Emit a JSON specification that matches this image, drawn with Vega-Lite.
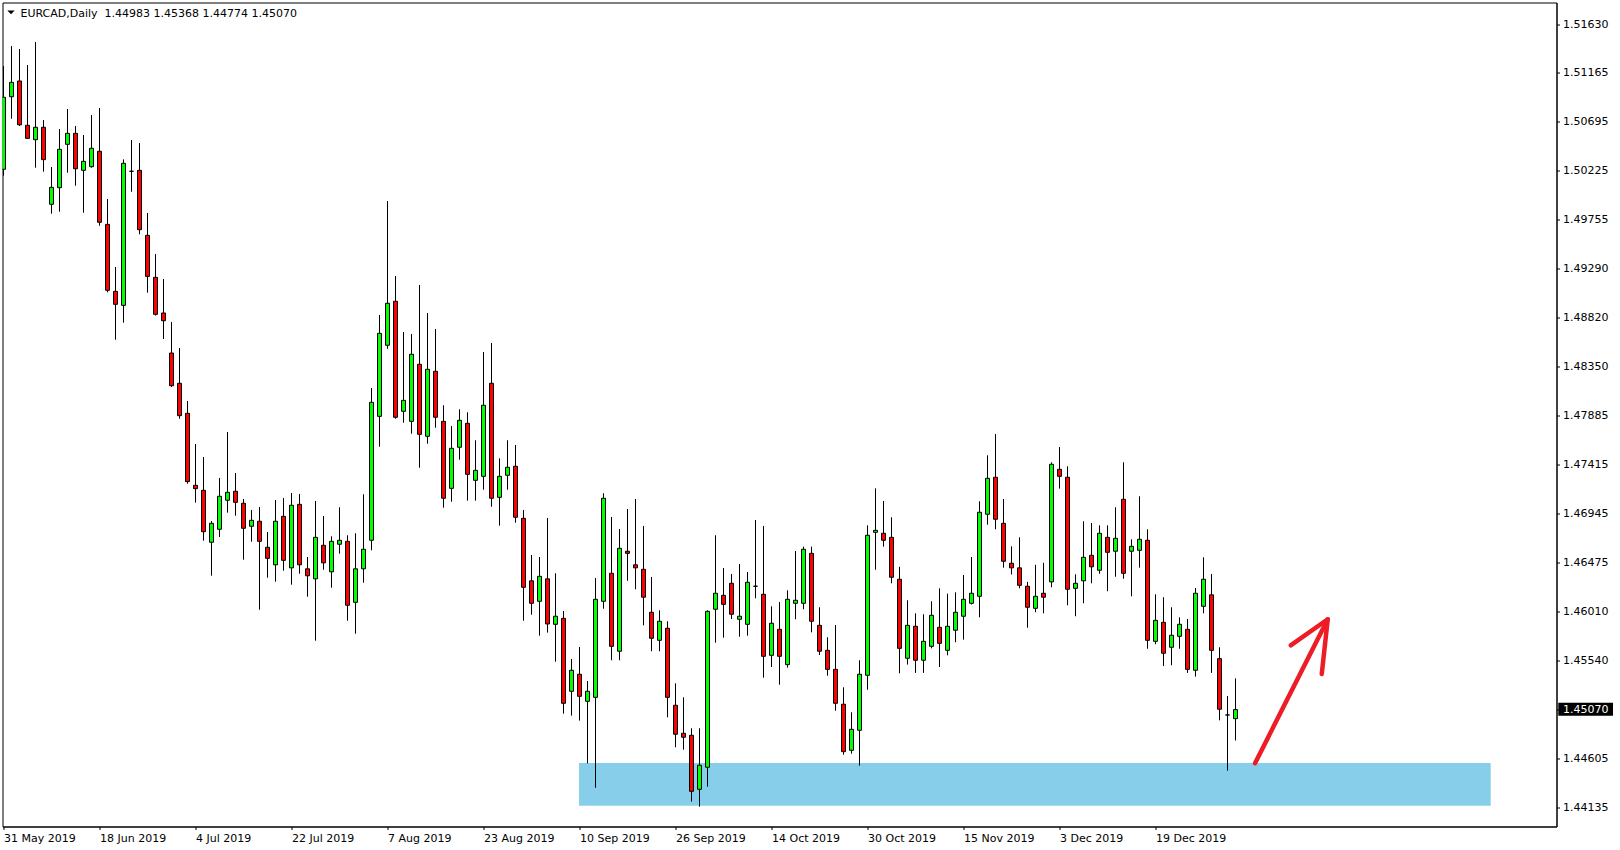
{
"$schema": "https://vega.github.io/schema/vega-lite/v6.json",
"width": 1554, "height": 824,
"autosize": {"type": "none"},
"padding": {"left": 2.5, "top": 2.5, "right": 63.5, "bottom": 23.5},
"background": "white",
"title": {"text": "EURCAD,Daily\u00a0 1.44983 1.45368 1.44774 1.45070", "anchor": "start", "frame": "group", "orient": "top", "offset": -16, "dx": 18, "font": "DejaVu Sans", "fontSize": 11, "fontWeight": "normal", "color": "black"},
"datasets": {
"candles": [
{"date":"2019-05-31","i":0,"open":1.50240,"high":1.51228,"low":1.50179,"close":1.50929},
{"date":"2019-06-03","i":1,"open":1.50934,"high":1.51419,"low":1.50724,"close":1.51072},
{"date":"2019-06-04","i":2,"open":1.51085,"high":1.51391,"low":1.50654,"close":1.50666},
{"date":"2019-06-05","i":3,"open":1.50661,"high":1.51238,"low":1.50530,"close":1.50536},
{"date":"2019-06-06","i":4,"open":1.50523,"high":1.51458,"low":1.50255,"close":1.50642},
{"date":"2019-06-07","i":5,"open":1.50642,"high":1.50711,"low":1.50217,"close":1.50332},
{"date":"2019-06-10","i":6,"open":1.49905,"high":1.50262,"low":1.49815,"close":1.50067},
{"date":"2019-06-11","i":7,"open":1.50064,"high":1.50625,"low":1.49834,"close":1.50431},
{"date":"2019-06-12","i":8,"open":1.50479,"high":1.50817,"low":1.50207,"close":1.50584},
{"date":"2019-06-13","i":9,"open":1.50584,"high":1.50654,"low":1.50083,"close":1.50245},
{"date":"2019-06-14","i":10,"open":1.50230,"high":1.50568,"low":1.49824,"close":1.50316},
{"date":"2019-06-17","i":11,"open":1.50265,"high":1.50759,"low":1.50255,"close":1.50441},
{"date":"2019-06-18","i":12,"open":1.50412,"high":1.50826,"low":1.49700,"close":1.49733},
{"date":"2019-06-19","i":13,"open":1.49713,"high":1.49956,"low":1.49063,"close":1.49082},
{"date":"2019-06-20","i":14,"open":1.49072,"high":1.49305,"low":1.48609,"close":1.48948},
{"date":"2019-06-21","i":15,"open":1.48938,"high":1.50335,"low":1.48772,"close":1.50297},
{"date":"2019-06-24","i":16,"open":1.50221,"high":1.50520,"low":1.50025,"close":1.50221},
{"date":"2019-06-25","i":17,"open":1.50230,"high":1.50491,"low":1.49618,"close":1.49662},
{"date":"2019-06-26","i":18,"open":1.49608,"high":1.49822,"low":1.49059,"close":1.49215},
{"date":"2019-06-27","i":19,"open":1.49206,"high":1.49429,"low":1.48841,"close":1.48852},
{"date":"2019-06-28","i":20,"open":1.48865,"high":1.49190,"low":1.48616,"close":1.48791},
{"date":"2019-07-01","i":21,"open":1.48482,"high":1.48779,"low":1.48157,"close":1.48169},
{"date":"2019-07-02","i":22,"open":1.48192,"high":1.48530,"low":1.47853,"close":1.47882},
{"date":"2019-07-03","i":23,"open":1.47905,"high":1.48023,"low":1.47231,"close":1.47251},
{"date":"2019-07-04","i":24,"open":1.47216,"high":1.47611,"low":1.47050,"close":1.47184},
{"date":"2019-07-05","i":25,"open":1.47168,"high":1.47487,"low":1.46686,"close":1.46772},
{"date":"2019-07-08","i":26,"open":1.46671,"high":1.46874,"low":1.46351,"close":1.46852},
{"date":"2019-07-09","i":27,"open":1.46795,"high":1.47286,"low":1.46721,"close":1.47111},
{"date":"2019-07-10","i":28,"open":1.47073,"high":1.47726,"low":1.46954,"close":1.47149},
{"date":"2019-07-11","i":29,"open":1.47159,"high":1.47334,"low":1.46925,"close":1.47053},
{"date":"2019-07-12","i":30,"open":1.47044,"high":1.47085,"low":1.46504,"close":1.46805},
{"date":"2019-07-15","i":31,"open":1.46824,"high":1.46980,"low":1.46676,"close":1.46881},
{"date":"2019-07-16","i":32,"open":1.46872,"high":1.47008,"low":1.46026,"close":1.46680},
{"date":"2019-07-17","i":33,"open":1.46623,"high":1.46769,"low":1.46332,"close":1.46517},
{"date":"2019-07-18","i":34,"open":1.46455,"high":1.47075,"low":1.46294,"close":1.46872},
{"date":"2019-07-19","i":35,"open":1.46919,"high":1.47095,"low":1.46399,"close":1.46498},
{"date":"2019-07-22","i":36,"open":1.46426,"high":1.47142,"low":1.46265,"close":1.47025},
{"date":"2019-07-23","i":37,"open":1.47034,"high":1.47133,"low":1.46370,"close":1.46455},
{"date":"2019-07-24","i":38,"open":1.46417,"high":1.46530,"low":1.46150,"close":1.46350},
{"date":"2019-07-25","i":39,"open":1.46321,"high":1.47066,"low":1.45729,"close":1.46718},
{"date":"2019-07-26","i":40,"open":1.46642,"high":1.46922,"low":1.46408,"close":1.46474},
{"date":"2019-07-29","i":41,"open":1.46388,"high":1.46728,"low":1.46236,"close":1.46680},
{"date":"2019-07-30","i":42,"open":1.46652,"high":1.47006,"low":1.46562,"close":1.46690},
{"date":"2019-07-31","i":43,"open":1.46680,"high":1.46738,"low":1.45920,"close":1.46068},
{"date":"2019-08-01","i":44,"open":1.46096,"high":1.46757,"low":1.45796,"close":1.46417},
{"date":"2019-08-02","i":45,"open":1.46417,"high":1.47130,"low":1.46284,"close":1.46604},
{"date":"2019-08-05","i":46,"open":1.46690,"high":1.48147,"low":1.46594,"close":1.48010},
{"date":"2019-08-06","i":47,"open":1.47876,"high":1.48846,"low":1.47585,"close":1.48670},
{"date":"2019-08-07","i":48,"open":1.48556,"high":1.49936,"low":1.48523,"close":1.48958},
{"date":"2019-08-08","i":49,"open":1.48977,"high":1.49219,"low":1.47853,"close":1.47867},
{"date":"2019-08-09","i":50,"open":1.47924,"high":1.48683,"low":1.47815,"close":1.48029},
{"date":"2019-08-12","i":51,"open":1.47828,"high":1.48664,"low":1.47710,"close":1.48470},
{"date":"2019-08-13","i":52,"open":1.48374,"high":1.49133,"low":1.47384,"close":1.47704},
{"date":"2019-08-14","i":53,"open":1.47685,"high":1.48865,"low":1.47614,"close":1.48326},
{"date":"2019-08-15","i":54,"open":1.48307,"high":1.48712,"low":1.47767,"close":1.47867},
{"date":"2019-08-16","i":55,"open":1.47828,"high":1.47982,"low":1.47002,"close":1.47092},
{"date":"2019-08-19","i":56,"open":1.47187,"high":1.47783,"low":1.47059,"close":1.47570},
{"date":"2019-08-20","i":57,"open":1.47580,"high":1.47943,"low":1.47461,"close":1.47838},
{"date":"2019-08-21","i":58,"open":1.47809,"high":1.47915,"low":1.47069,"close":1.47321},
{"date":"2019-08-22","i":59,"open":1.47264,"high":1.47647,"low":1.47069,"close":1.47359},
{"date":"2019-08-23","i":60,"open":1.47302,"high":1.48492,"low":1.47174,"close":1.47982},
{"date":"2019-08-26","i":61,"open":1.48192,"high":1.48578,"low":1.47011,"close":1.47092},
{"date":"2019-08-27","i":62,"open":1.47101,"high":1.47474,"low":1.46830,"close":1.47302},
{"date":"2019-08-28","i":63,"open":1.47312,"high":1.47647,"low":1.47174,"close":1.47388},
{"date":"2019-08-29","i":64,"open":1.47398,"high":1.47602,"low":1.46858,"close":1.46910},
{"date":"2019-08-30","i":65,"open":1.46900,"high":1.46980,"low":1.45920,"close":1.46240},
{"date":"2019-09-02","i":66,"open":1.46302,"high":1.46549,"low":1.45978,"close":1.46087},
{"date":"2019-09-03","i":67,"open":1.46106,"high":1.46530,"low":1.45777,"close":1.46345},
{"date":"2019-09-04","i":68,"open":1.46321,"high":1.46903,"low":1.45806,"close":1.45889},
{"date":"2019-09-05","i":69,"open":1.45886,"high":1.46374,"low":1.45528,"close":1.45963},
{"date":"2019-09-06","i":70,"open":1.45943,"high":1.46013,"low":1.45031,"close":1.45130},
{"date":"2019-09-09","i":71,"open":1.45245,"high":1.45554,"low":1.45012,"close":1.45446},
{"date":"2019-09-10","i":72,"open":1.45408,"high":1.45669,"low":1.44964,"close":1.45197},
{"date":"2019-09-11","i":73,"open":1.45149,"high":1.45343,"low":1.44555,"close":1.45245},
{"date":"2019-09-12","i":74,"open":1.45187,"high":1.46329,"low":1.44322,"close":1.46125},
{"date":"2019-09-13","i":75,"open":1.46106,"high":1.47140,"low":1.46035,"close":1.47092},
{"date":"2019-09-16","i":76,"open":1.46374,"high":1.46913,"low":1.45542,"close":1.45675},
{"date":"2019-09-17","i":77,"open":1.45628,"high":1.46798,"low":1.45542,"close":1.46613},
{"date":"2019-09-18","i":78,"open":1.46585,"high":1.46989,"low":1.46302,"close":1.46565},
{"date":"2019-09-19","i":79,"open":1.46455,"high":1.47085,"low":1.46221,"close":1.46426},
{"date":"2019-09-20","i":80,"open":1.46412,"high":1.46827,"low":1.45876,"close":1.46145},
{"date":"2019-09-23","i":81,"open":1.46001,"high":1.46339,"low":1.45628,"close":1.45752},
{"date":"2019-09-24","i":82,"open":1.45733,"high":1.46020,"low":1.45628,"close":1.45915},
{"date":"2019-09-25","i":83,"open":1.45848,"high":1.45915,"low":1.44996,"close":1.45187},
{"date":"2019-09-26","i":84,"open":1.45111,"high":1.45321,"low":1.44709,"close":1.44834},
{"date":"2019-09-27","i":85,"open":1.44843,"high":1.45187,"low":1.44686,"close":1.44805},
{"date":"2019-09-30","i":86,"open":1.44824,"high":1.44891,"low":1.44189,"close":1.44288},
{"date":"2019-10-01","i":87,"open":1.44307,"high":1.44891,"low":1.44141,"close":1.44537},
{"date":"2019-10-02","i":88,"open":1.44518,"high":1.46020,"low":1.44332,"close":1.46010},
{"date":"2019-10-03","i":89,"open":1.46030,"high":1.46738,"low":1.45710,"close":1.46183},
{"date":"2019-10-04","i":90,"open":1.46163,"high":1.46425,"low":1.45758,"close":1.46077},
{"date":"2019-10-07","i":91,"open":1.46278,"high":1.46367,"low":1.45937,"close":1.45982},
{"date":"2019-10-08","i":92,"open":1.45934,"high":1.46463,"low":1.45767,"close":1.45963},
{"date":"2019-10-09","i":93,"open":1.45886,"high":1.46386,"low":1.45777,"close":1.46288},
{"date":"2019-10-10","i":94,"open":1.46250,"high":1.46884,"low":1.46135,"close":1.46250},
{"date":"2019-10-11","i":95,"open":1.46173,"high":1.46827,"low":1.45375,"close":1.45580},
{"date":"2019-10-14","i":96,"open":1.45589,"high":1.46058,"low":1.45477,"close":1.45896},
{"date":"2019-10-15","i":97,"open":1.45838,"high":1.46099,"low":1.45308,"close":1.45580},
{"date":"2019-10-16","i":98,"open":1.45500,"high":1.46211,"low":1.45471,"close":1.46125},
{"date":"2019-10-17","i":99,"open":1.46087,"high":1.46587,"low":1.45934,"close":1.46116},
{"date":"2019-10-18","i":100,"open":1.46087,"high":1.46629,"low":1.46030,"close":1.46604},
{"date":"2019-10-21","i":101,"open":1.46565,"high":1.46629,"low":1.45809,"close":1.45915},
{"date":"2019-10-22","i":102,"open":1.45876,"high":1.46049,"low":1.45592,"close":1.45628},
{"date":"2019-10-23","i":103,"open":1.45637,"high":1.45762,"low":1.45394,"close":1.45455},
{"date":"2019-10-24","i":104,"open":1.45455,"high":1.45879,"low":1.45059,"close":1.45130},
{"date":"2019-10-25","i":105,"open":1.45121,"high":1.45283,"low":1.44638,"close":1.44667},
{"date":"2019-10-28","i":106,"open":1.44680,"high":1.45044,"low":1.44648,"close":1.44881},
{"date":"2019-10-29","i":107,"open":1.44872,"high":1.45542,"low":1.44533,"close":1.45408},
{"date":"2019-10-30","i":108,"open":1.45398,"high":1.46833,"low":1.45260,"close":1.46738},
{"date":"2019-10-31","i":109,"open":1.46766,"high":1.47187,"low":1.46408,"close":1.46785},
{"date":"2019-11-01","i":110,"open":1.46757,"high":1.47066,"low":1.46629,"close":1.46690},
{"date":"2019-11-04","i":111,"open":1.46718,"high":1.46910,"low":1.46278,"close":1.46336},
{"date":"2019-11-05","i":112,"open":1.46317,"high":1.46436,"low":1.45417,"close":1.45656},
{"date":"2019-11-06","i":113,"open":1.45561,"high":1.46116,"low":1.45500,"close":1.45876},
{"date":"2019-11-07","i":114,"open":1.45867,"high":1.45991,"low":1.45421,"close":1.45542},
{"date":"2019-11-08","i":115,"open":1.45542,"high":1.45982,"low":1.45421,"close":1.45723},
{"date":"2019-11-11","i":116,"open":1.45675,"high":1.46106,"low":1.45656,"close":1.45972},
{"date":"2019-11-12","i":117,"open":1.45857,"high":1.46230,"low":1.45477,"close":1.45704},
{"date":"2019-11-13","i":118,"open":1.45637,"high":1.46179,"low":1.45589,"close":1.45867},
{"date":"2019-11-14","i":119,"open":1.45829,"high":1.46192,"low":1.45714,"close":1.46001},
{"date":"2019-11-15","i":120,"open":1.45963,"high":1.46358,"low":1.45739,"close":1.46125},
{"date":"2019-11-18","i":121,"open":1.46087,"high":1.46530,"low":1.46075,"close":1.46183},
{"date":"2019-11-19","i":122,"open":1.46154,"high":1.47063,"low":1.45953,"close":1.46958},
{"date":"2019-11-20","i":123,"open":1.46939,"high":1.47503,"low":1.46839,"close":1.47283},
{"date":"2019-11-21","i":124,"open":1.47293,"high":1.47707,"low":1.46795,"close":1.46891},
{"date":"2019-11-22","i":125,"open":1.46852,"high":1.47085,"low":1.46428,"close":1.46489},
{"date":"2019-11-25","i":126,"open":1.46470,"high":1.46632,"low":1.46363,"close":1.46426},
{"date":"2019-11-26","i":127,"open":1.46426,"high":1.46718,"low":1.46230,"close":1.46259},
{"date":"2019-11-27","i":128,"open":1.46250,"high":1.46292,"low":1.45853,"close":1.46049},
{"date":"2019-11-28","i":129,"open":1.46039,"high":1.46455,"low":1.46001,"close":1.46154},
{"date":"2019-11-29","i":130,"open":1.46183,"high":1.46474,"low":1.45991,"close":1.46145},
{"date":"2019-12-02","i":131,"open":1.46292,"high":1.47436,"low":1.46240,"close":1.47417},
{"date":"2019-12-03","i":132,"open":1.47369,"high":1.47582,"low":1.47184,"close":1.47302},
{"date":"2019-12-04","i":133,"open":1.47293,"high":1.47398,"low":1.46068,"close":1.46221},
{"date":"2019-12-05","i":134,"open":1.46230,"high":1.46364,"low":1.45963,"close":1.46278},
{"date":"2019-12-06","i":135,"open":1.46302,"high":1.46872,"low":1.46087,"close":1.46527},
{"date":"2019-12-09","i":136,"open":1.46546,"high":1.46855,"low":1.46278,"close":1.46436},
{"date":"2019-12-10","i":137,"open":1.46403,"high":1.46833,"low":1.46370,"close":1.46757},
{"date":"2019-12-11","i":138,"open":1.46718,"high":1.46833,"low":1.46202,"close":1.46575},
{"date":"2019-12-12","i":139,"open":1.46585,"high":1.47006,"low":1.46341,"close":1.46709},
{"date":"2019-12-13","i":140,"open":1.47082,"high":1.47436,"low":1.46322,"close":1.46374},
{"date":"2019-12-16","i":141,"open":1.46585,"high":1.46699,"low":1.46154,"close":1.46632},
{"date":"2019-12-17","i":142,"open":1.46594,"high":1.47111,"low":1.46428,"close":1.46699},
{"date":"2019-12-18","i":143,"open":1.46690,"high":1.46795,"low":1.45652,"close":1.45733},
{"date":"2019-12-19","i":144,"open":1.45723,"high":1.46173,"low":1.45695,"close":1.45924},
{"date":"2019-12-20","i":145,"open":1.45905,"high":1.46145,"low":1.45487,"close":1.45609},
{"date":"2019-12-23","i":146,"open":1.45666,"high":1.46049,"low":1.45494,"close":1.45781},
{"date":"2019-12-24","i":147,"open":1.45771,"high":1.45953,"low":1.45652,"close":1.45886},
{"date":"2019-12-26","i":148,"open":1.45838,"high":1.45937,"low":1.45421,"close":1.45455},
{"date":"2019-12-27","i":149,"open":1.45446,"high":1.46233,"low":1.45385,"close":1.46183},
{"date":"2019-12-30","i":150,"open":1.46058,"high":1.46527,"low":1.45991,"close":1.46317},
{"date":"2019-12-31","i":151,"open":1.46168,"high":1.46367,"low":1.45421,"close":1.45637},
{"date":"2020-01-02","i":152,"open":1.45557,"high":1.45666,"low":1.44967,"close":1.45073},
{"date":"2020-01-03","i":153,"open":1.45018,"high":1.45200,"low":1.44485,"close":1.45018},
{"date":"2020-01-06","i":154,"open":1.44983,"high":1.45368,"low":1.44774,"close":1.45070}
],
"zone": [{"i_start": 71.94, "i_end": 185.9, "low": 1.44150, "high": 1.44559}],
"arrow": [
{"part": "shaft", "k": 0, "i": 156.44, "price": 1.44556},
{"part": "shaft", "k": 1, "i": 165.53, "price": 1.45934},
{"part": "head", "k": 0, "i": 160.9, "price": 1.45685},
{"part": "head", "k": 1, "i": 165.53, "price": 1.45934},
{"part": "head", "k": 2, "i": 164.78, "price": 1.45410}
]
},
"layer": [
{"data": {"name": "zone"},
 "mark": {"type": "rect", "color": "#87CEEB"},
 "encoding": {
  "x": {"field": "i_start", "type": "quantitative", "title": null,
        "scale": {"domain": [-0.125, 194.125], "nice": false, "zero": false, "padding": 0},
        "axis": {"values": [0,12,24,36,48,60,72,84,96,108,120,132,144],
                 "labelExpr": "['31 May 2019','18 Jun 2019','4 Jul 2019','22 Jul 2019','7 Aug 2019','23 Aug 2019','10 Sep 2019','26 Sep 2019','14 Oct 2019','30 Oct 2019','15 Nov 2019','3 Dec 2019','19 Dec 2019'][round(datum.value / 12)]",
                 "labelAlign": "left", "labelDx": -1, "labelPadding": 3, "labelFlush": false, "labelOverlap": false,
                 "tickSize": 3, "grid": false, "zindex": 1}},
  "x2": {"field": "i_end"},
  "y": {"field": "low", "type": "quantitative", "title": null,
        "scale": {"domain": [1.43951, 1.51836], "nice": false, "zero": false, "padding": 0},
        "axis": {"orient": "right", "values": [1.44135,1.44605,1.4507,1.4554,1.4601,1.46475,1.46945,1.47415,1.47885,1.4835,1.4882,1.4929,1.49755,1.50225,1.50695,1.51165,1.5163],
                 "format": ".5f", "tickSize": 3, "labelPadding": 3, "grid": false, "zindex": 1,
                 "labelColor": {"condition": {"test": "abs(datum.value - 1.4507) < 0.000001", "value": "white"}, "value": "black"}}},
  "y2": {"field": "high"}
 }},
{"data": {"name": "candles"},
 "mark": {"type": "rule", "color": "black", "strokeWidth": 1, "clip": true},
 "encoding": {
  "x": {"field": "i", "type": "quantitative", "title": null},
  "y": {"field": "low", "type": "quantitative", "title": null},
  "y2": {"field": "high"}
 }},
{"data": {"name": "candles"},
 "mark": {"type": "bar", "size": 4, "stroke": "black", "strokeWidth": 1, "clip": true},
 "encoding": {
  "x": {"field": "i", "type": "quantitative", "title": null},
  "y": {"field": "open", "type": "quantitative", "title": null},
  "y2": {"field": "close"},
  "fill": {"condition": [{"test": "datum.close > datum.open", "value": "#00FF00"}, {"test": "datum.close < datum.open", "value": "#FF0000"}], "value": "#000000"}
 }},
{"data": {"name": "arrow"},
 "mark": {"type": "line", "color": "#EE1C25", "strokeWidth": 4.5, "strokeCap": "round", "strokeJoin": "round"},
 "encoding": {
  "x": {"field": "i", "type": "quantitative", "title": null},
  "y": {"field": "price", "type": "quantitative", "title": null},
  "detail": {"field": "part"},
  "order": {"field": "k"}
 }},
{"data": {"values": [{"last_close": 1.4507}]},
 "mark": {"type": "rect", "color": "black", "clip": false},
 "encoding": {
  "x": {"datum": 194.35, "type": "quantitative"},
  "x2": {"datum": 201.19},
  "y": {"datum": 1.45136, "type": "quantitative"},
  "y2": {"datum": 1.45011}
 }},
{"data": {"values": [{"menu": "collapse"}]},
 "mark": {"type": "point", "shape": "M-1,-0.5L1,-0.5L0,0.5Z", "filled": true, "color": "black", "opacity": 1, "size": 53, "strokeWidth": 0},
 "encoding": {
  "x": {"datum": 0.94, "type": "quantitative"},
  "y": {"datum": 1.51742, "type": "quantitative"}
 }}
],
"config": {
 "view": {"stroke": "black", "strokeWidth": 1},
 "axis": {"domainColor": "black", "domainWidth": 1, "tickColor": "black", "tickWidth": 1,
          "labelFont": "DejaVu Sans", "labelFontSize": 11, "labelColor": "black"}
}
}
